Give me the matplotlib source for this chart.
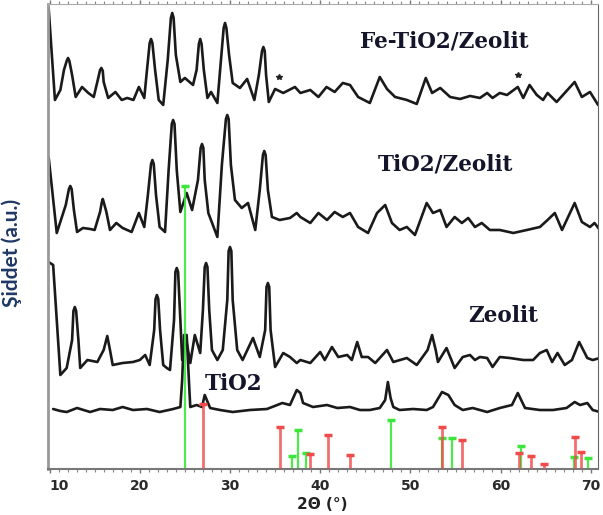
import matplotlib
matplotlib.use('Agg')
import matplotlib.pyplot as plt
import numpy as np

# Fe-TiO2/Zeolit
fe_x = [9.9, 10.6, 11.2, 11.6, 11.9, 12.05, 12.2, 12.5, 12.9, 13.6, 14.3, 14.9, 15.4, 15.6, 15.75, 15.9, 16.0, 16.5,
        17.3, 18.0, 18.6, 19.3, 19.9, 20.5, 20.8, 21.1, 21.25, 21.4, 21.7, 22.1, 22.6, 23.1, 23.45, 23.6, 23.75, 24.0,
        24.5, 25.0, 25.9, 26.3, 26.55, 26.7, 26.85, 27.1, 27.5, 27.9, 28.6, 29.0, 29.3, 29.45, 29.6, 29.9, 30.3, 31.1,
        31.9, 32.7, 33.2, 33.55, 33.7, 33.85, 34.0, 34.3, 35.0, 35.9, 37.2, 37.8, 38.9, 39.8, 40.7, 41.6, 42.5, 43.3,
        44.2, 45.5, 46.6, 47.4, 48.3, 49.6, 50.7, 51.7, 52.4, 53.3, 54.4, 55.5, 56.6, 57.7, 58.5, 59.1, 59.9, 60.7,
        61.9, 62.5, 63.2, 64.0, 64.7, 65.2, 66.2, 67.1, 68.2, 69.0, 69.9, 70.8]
fe_y = [460, 368, 378, 398, 407, 410, 407, 393, 371, 381, 375, 371, 390, 398, 400, 397, 386, 370,
        376, 368, 370, 368, 381, 370, 398, 425, 429, 425, 398, 368, 363, 408, 450, 455, 450, 413,
        386, 390, 383, 398, 424, 429, 424, 398, 370, 376, 365, 408, 440, 445, 440, 413, 385, 380,
        389, 368, 393, 417, 421, 417, 393, 366, 379, 375, 381, 375, 378, 371, 381, 376, 385, 383,
        371, 365, 391, 379, 371, 368, 364, 390, 375, 380, 371, 369, 372, 370, 375, 370, 375, 373,
        381, 370, 383, 373, 368, 375, 366, 375, 386, 371, 376, 363]

# TiO2/Zeolit
tz_x = [9.9, 10.8, 11.8, 12.15, 12.3, 12.45, 12.7, 13.05, 13.7, 14.5, 15.0, 15.6, 15.8, 15.9, 16.0, 16.3, 16.7, 17.4,
        18.1, 19.1, 19.9, 20.5, 20.9, 21.25, 21.4, 21.55, 21.8, 22.2, 22.8, 23.2, 23.55, 23.7, 23.85, 24.1, 24.5, 25.2,
        25.8, 26.45, 26.75, 26.9, 27.05, 27.2, 27.6, 28.6, 29.1, 29.55, 29.7, 29.85, 30.1, 30.55, 31.3, 32.0, 32.8,
        33.3, 33.65, 33.8, 33.95, 34.2, 34.65, 35.5, 36.65, 37.4, 37.8, 38.9, 39.8, 40.75, 41.6, 42.5, 43.3, 44.2,
        45.3, 46.3, 47.2, 47.95, 48.8, 49.6, 50.5, 51.8, 52.5, 53.3, 54.0, 54.9, 55.7, 56.4, 57.15, 57.9, 58.8, 59.9,
        61.4, 62.9, 64.35, 65.2, 66.0, 66.8, 68.2, 69.0, 69.9, 70.4, 71.0]
tz_y = [311, 235, 263, 279, 282, 279, 258, 236, 240, 239, 238, 256, 266, 269, 266, 256, 238, 245,
        240, 236, 255, 241, 273, 304, 308, 304, 273, 241, 236, 298, 344, 348, 344, 298, 256, 275,
        258, 288, 320, 324, 320, 288, 255, 231, 303, 349, 353, 349, 303, 268, 260, 265, 238,
        278, 313, 317, 313, 278, 251, 248, 250, 255, 251, 245, 255, 248, 256, 251, 255, 241,
        235, 255, 263, 245, 238, 241, 233, 265, 255, 258, 241, 251, 245, 250, 241, 245, 238, 238,
        235, 238, 241, 248, 255, 238, 265, 246, 241, 245, 238]

# Zeolit
ze_x = [9.9, 10.4, 10.8, 11.2, 11.9, 12.5, 12.65, 12.8, 12.95, 13.2, 13.4, 14.2, 15.3, 16.0, 16.4, 16.7, 17.0, 18.1,
        19.25, 20.0, 20.6, 21.1, 21.6, 21.75, 21.9, 22.05, 22.25, 22.6, 23.0, 23.35, 23.8, 23.95, 24.1, 24.25, 24.5,
        24.7, 25.1, 25.6, 26.1, 26.7, 27.0, 27.2, 27.35, 27.5, 27.7, 28.0, 28.6, 29.2, 29.7, 29.85, 30.0, 30.15, 30.3,
        30.8, 31.4, 32.55, 33.3, 33.9, 34.05, 34.2, 34.35, 34.5, 35.0, 35.9, 36.65, 37.4, 37.8, 38.9, 40.0, 40.5, 41.3,
        42.0, 43.0, 43.5, 44.1, 44.6, 45.3, 46.1, 47.4, 48.1, 49.6, 50.7, 51.9, 52.4, 52.8, 53.05, 54.0, 54.9, 55.8,
        56.6, 57.15, 57.7, 58.5, 59.1, 59.9, 61.0, 62.5, 63.6, 64.35, 65.1, 65.7, 66.3, 67.1, 67.9, 68.7, 69.6, 70.2,
        71.0]
ze_y = [206, 203, 148, 93, 100, 128, 157, 161, 157, 128, 100, 108, 106, 118, 132, 118, 103, 105,
        106, 108, 113, 103, 138, 169, 173, 169, 138, 103, 100, 98, 148, 196, 200, 196, 148,
        108, 131, 105, 133, 115, 158, 201, 205, 201, 158, 118, 108, 118, 168, 217, 221, 217, 168,
        118, 108, 130, 111, 138, 181, 185, 181, 138, 101, 115, 111, 105, 108, 105, 116, 108, 121,
        111, 113, 108, 126, 111, 111, 105, 118, 106, 110, 103, 118, 133, 118, 106, 120, 100, 111,
        113, 108, 111, 110, 101, 111, 110, 108, 108, 115, 118, 106, 115, 103, 108, 126, 110, 108,
        110]

# TiO2
ti_x = [10.4, 11.2, 11.9, 13.05, 14.5, 15.6, 17.0, 18.1, 19.25, 20.8, 22.2, 23.7, 24.5, 24.7, 24.9, 25.2, 25.5, 25.6,
        26.3, 26.9, 27.2, 27.8, 28.9, 30.3, 32.2, 34.1, 35.8, 36.65, 37.4, 37.8, 38.1, 39.2, 40.75, 41.9, 43.3, 44.4,
        45.5, 46.6, 47.2, 47.5, 47.8, 48.1, 48.8, 50.3, 51.8, 52.5, 53.5, 54.2, 54.9, 55.8, 56.9, 58.5, 59.9, 61.25,
        61.9, 62.7, 64.35, 65.8, 67.3, 68.2, 68.8, 69.6, 70.2, 71.0]
ti_y = [59, 57, 56, 60, 56, 59, 58, 61, 58, 59, 56, 59, 61, 88, 133, 133, 78, 61,
        63, 61, 73, 60, 58, 56, 58, 59, 65, 63, 78, 75, 65, 61, 63, 60, 61, 58,
        58, 60, 68, 86, 70, 61, 58, 59, 58, 61, 76, 73, 63, 58, 60, 56, 60, 63,
        75, 60, 58, 58, 60, 66, 63, 65, 58, 56]

# reference sticks
anatase_pos = [25.0, 36.9, 37.5, 38.4, 47.8, 53.5, 54.6, 62.2, 68.1, 69.7]
anatase_int = [282, 12, 38, 15, 48, 30, 30, 22, 11, 10]
rutile_pos = [27.0, 35.5, 38.9, 40.9, 43.3, 53.5, 55.7, 62.0, 63.4, 64.8, 68.2, 68.9]
rutile_int = [64, 41, 14, 33, 13, 41, 28, 15, 12, 4, 31, 16]

labels = ['Fe-TiO2/Zeolit', 'TiO2/Zeolit', 'Zeolit', 'TiO2']
label_x = [53.8, 53.9, 60.25, 30.45]
label_y = [426, 303, 152, 84]
star_x = [35.4, 61.9]
star_y = [391, 393]

fig = plt.figure(figsize=(6.03, 5.15), dpi=100)
ax = fig.add_axes([0.0796, 0.0893, 0.912, 0.903])

for xs, ys in [(fe_x, fe_y), (tz_x, tz_y), (ze_x, ze_y), (ti_x, ti_y)]:
    ax.plot(xs, ys, color='#1a1a1a', lw=1.9, solid_joinstyle='round', solid_capstyle='round', zorder=2)

ax.vlines(anatase_pos, 0, anatase_int, color='#3ce63c', lw=1.6, alpha=0.9, zorder=3)
ax.plot(anatase_pos, anatase_int, ls='none', marker='_', ms=6, mew=2.5, color='#3ce63c', zorder=3)
ax.vlines(rutile_pos, 0, rutile_int, color='#f04a4a', lw=2.0, alpha=0.8, zorder=3)
ax.plot(rutile_pos, rutile_int, ls='none', marker='_', ms=6, mew=2.5, color='#f04a4a', zorder=3)

for t, x, y in zip(labels, label_x, label_y):
    ax.text(x, y, t, ha='center', va='center', fontsize=15.5, fontweight='bold',
            family='DejaVu Serif', color='#14142a')
ax.plot(star_x, star_y, ls='none', marker='*', ms=4, color='#222222')

ax.set_xlim(9.83, 70.78)
ax.set_ylim(-1, 464)
ax.set_yticks([])
ax.set_xticks([10, 20, 30, 40, 50, 60, 70])
ax.set_xticks(np.arange(10, 71, 1), minor=True)
ax.tick_params(axis='x', which='major', length=3, width=1, color='#777777', pad=4,
               labelsize=10, labelcolor='#2a2a2a', top=True)
ax.tick_params(axis='x', which='minor', length=2, width=0.8, color='#888888', top=True)
for lab in ax.get_xticklabels():
    lab.set_fontweight('bold')
ax.get_xticklabels()[0].set_ha('left')

ax.spines['left'].set_color('#999999')
ax.spines['left'].set_linewidth(2)
ax.spines['bottom'].set_color('#777777')
ax.spines['bottom'].set_linewidth(1.5)
ax.spines['top'].set_color('#aaaaaa')
ax.spines['right'].set_color('#666666')

ax.set_xlabel('2Θ (°)', fontsize=11, fontweight='bold', color='#222222')
ax.xaxis.set_label_coords(0.498, -0.06)
ax.set_ylabel('Şiddet (a.u.)', fontsize=15, fontweight='bold', family='Lato', color='#1f3864')
ax.yaxis.set_label_coords(-0.047, 0.465)

fig.savefig('out.png', dpi=100)
